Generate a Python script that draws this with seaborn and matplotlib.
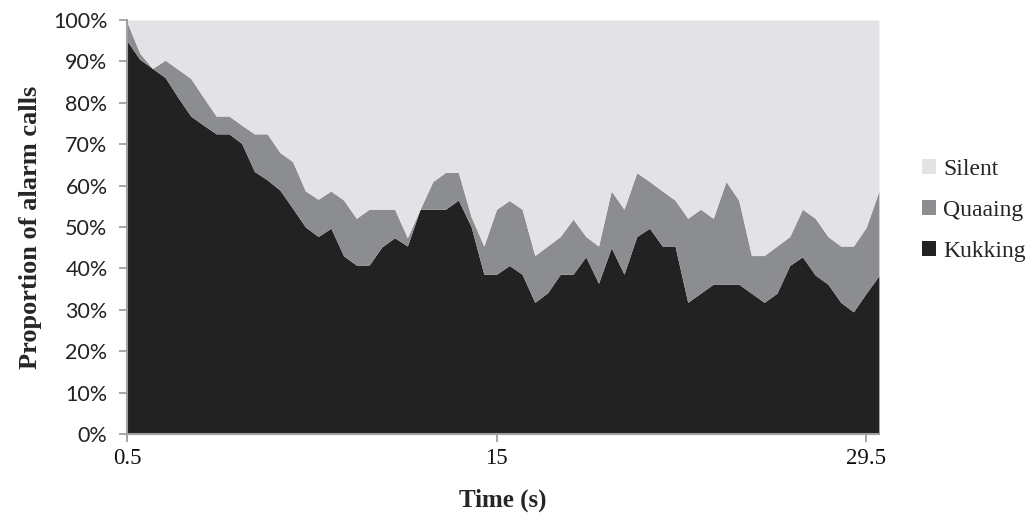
import numpy as np
import pandas as pd
import matplotlib
matplotlib.use("Agg")
import matplotlib.pyplot as plt
import seaborn as sns
from matplotlib.patches import Patch

# time in seconds (0.5 s bins)
time_s = np.arange(1, 61) * 0.5

# percentages
kukking = [95.0, 90.5, 88.3, 86.1, 81.3, 76.8, 74.6, 72.5, 72.5, 70.2,
           63.4, 61.4, 58.9, 54.5, 50.0, 47.7, 49.7, 43.0, 40.8, 40.8,
           45.2, 47.4, 45.4, 54.3, 54.3, 54.3, 56.5, 50.1, 38.6, 38.6,
           40.7, 38.6, 31.8, 34.1, 38.6, 38.6, 42.8, 36.4, 45.0, 38.6,
           47.7, 49.7, 45.4, 45.4, 31.8, 34.0, 36.2, 36.2, 36.2, 34.0,
           31.8, 34.0, 40.7, 42.8, 38.4, 36.2, 31.8, 29.5, 34.0, 38.2]
quaaing = [4.5, 1.5, 0.0, 4.2, 6.8, 9.1, 6.7, 4.3, 4.3, 4.4,
           9.1, 11.1, 9.1, 11.3, 8.7, 9.0, 9.0, 13.5, 11.3, 13.5,
           9.1, 6.9, 2.0, 0.0, 6.7, 8.9, 6.7, 2.4, 6.8, 15.7,
           15.7, 15.7, 11.3, 11.3, 9.1, 13.3, 4.9, 9.0, 13.7, 15.7,
           15.4, 11.3, 13.3, 11.1, 20.3, 20.3, 15.9, 24.8, 20.3, 9.1,
           11.3, 11.4, 7.0, 11.5, 13.7, 11.5, 13.6, 15.9, 15.9, 20.5]

series_names = ["Kukking", "Quaaing", "Silent"]
series_colors = ["#232222", "#8c8d90", "#e3e3e5"]
x_ticks = [0.5, 15, 29.5]
x_tick_labels = ["0.5", "15", "29.5"]

df = pd.DataFrame({"time": time_s, "Kukking": kukking, "Quaaing": quaaing})
df["Silent"] = 100 - df["Kukking"] - df["Quaaing"]

sns.set_theme(style="white")
plt.rcParams["font.family"] = ["Liberation Serif", "DejaVu Serif"]

fig, ax = plt.subplots(figsize=(10.34, 5.22), dpi=100)
fig.subplots_adjust(left=0.1228, right=0.850, top=0.9617, bottom=0.1686)

ax.stackplot(df["time"], df[series_names].T.values, colors=series_colors,
             linewidth=0)

ax.set_xlim(0.5, 30)
ax.set_ylim(0, 100)

ax.set_yticks(range(0, 101, 10))
ax.set_yticklabels([f"{v}%" for v in range(0, 101, 10)],
                   fontfamily="Lato", fontsize=15.5, color="#222222")
ax.set_xticks(x_ticks)
ax.set_xticklabels(x_tick_labels, fontsize=16.5, color="#111111")

ax.tick_params(axis="both", which="both", direction="out", length=6,
               width=1.3, color="#a0a0a0", bottom=True, left=True)
ax.tick_params(axis="y", pad=8)
ax.tick_params(axis="x", pad=4)

sns.despine(ax=ax, top=True, right=True)
for side in ["left", "bottom"]:
    ax.spines[side].set_color("#a0a0a0")
    ax.spines[side].set_linewidth(1.5)

ax.set_xlabel("Time (s)", fontsize=18, fontweight="bold", labelpad=14)
ax.set_ylabel("Proportion of alarm calls", fontsize=19, fontweight="bold",
              labelpad=8)

handles = [Patch(facecolor=series_colors[i], edgecolor="none",
                 label=series_names[i]) for i in [2, 1, 0]]
leg = ax.legend(handles=handles, loc="center left",
                bbox_to_anchor=(1.045, 0.54), frameon=False, fontsize=17,
                handlelength=0.6, handleheight=0.6, handletextpad=0.3,
                labelspacing=0.85, borderaxespad=0)

fig.savefig("out.png", dpi=100)
